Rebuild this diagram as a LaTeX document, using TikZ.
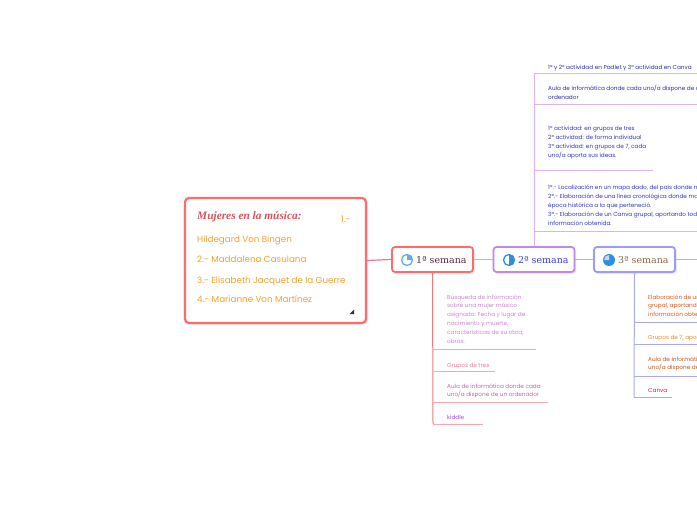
\documentclass[tikz,border=0pt]{standalone}
\usepackage{fontspec}
\setmainfont{Poppins}
\newfontfamily\weekfont{DejaVu Serif}
\newfontfamily\titlefont{Liberation Serif}
\definecolor{mainred}{HTML}{FF6B6B}
\definecolor{titlered}{HTML}{E0505A}
\definecolor{orangetxt}{HTML}{F2A22A}
\definecolor{weekone}{HTML}{5C2A3A}
\definecolor{weektwo}{HTML}{3B3BE8}
\definecolor{weekthree}{HTML}{8A6A40}
\definecolor{purpleb}{HTML}{C387E8}
\definecolor{blueb}{HTML}{9B9BFF}
\definecolor{iconblue}{HTML}{2E8FE0}
\definecolor{lnA}{HTML}{E8789A}
\definecolor{lnB}{HTML}{D4A4EC}
\definecolor{lnC}{HTML}{A8B4F4}
\definecolor{lnD}{HTML}{90C0FF}
\definecolor{redline}{HTML}{F47A7A}
\definecolor{redunder}{HTML}{F8A8A8}
\definecolor{purpline}{HTML}{DDB0F2}
\definecolor{blueline}{HTML}{AAAAF4}
\definecolor{navytxt}{HTML}{2E2EA8}
\definecolor{bluetxt}{HTML}{3434C8}
\definecolor{lilac}{HTML}{C888CC}
\definecolor{pinktxt}{HTML}{F07896}
\definecolor{magtxt}{HTML}{B86AB0}
\definecolor{violettxt}{HTML}{A048F0}
\definecolor{orred}{HTML}{E2541A}
\definecolor{ortxt}{HTML}{E8882A}
\definecolor{browntxt}{HTML}{C0581A}
\definecolor{crimson}{HTML}{C82040}
\newcommand{\ml}[1]{\begin{tabular}[t]{@{}l@{}}#1\end{tabular}}
\tikzset{
  mainbox/.style={draw=mainred, line width=2.2bp, rounded corners=4bp, fill=white, inner sep=0, minimum width=181bp, minimum height=125bp},
  weekbox/.style={line width=1.8bp, rounded corners=3bp, fill=white, inner sep=0, minimum width=81bp, minimum height=25bp},
  mtext/.style={anchor=base west, inner sep=0, text=orangetxt, font=\fontsize{8.8}{10}\selectfont},
  itemtext/.style={anchor=base west, inner sep=0, font=\fontsize{5.75}{9}\selectfont},
  weeklabel/.style={anchor=base west, inner sep=0, font=\weekfont\fontsize{9.5}{11}\selectfont}
}
\begin{document}
\begin{tikzpicture}[x=1bp,y=-1bp]
\path[use as bounding box, fill=white] (0,0) rectangle (697,520);
% shadows
\fill[black!8, rounded corners=4bp] (186,200) rectangle (368,325);
\fill[black!8, rounded corners=3bp] (393,249) rectangle (475,274);
\fill[black!8, rounded corners=3bp] (495,249) rectangle (576,274);
\fill[black!8, rounded corners=3bp] (595,249) rectangle (677,274);

% main box
\node[mainbox] (main) at (275.5,260.5) {};
\node[anchor=base west, inner sep=0, text=titlered, font=\titlefont\bfseries\itshape\fontsize{11.4}{12}\selectfont] (title) at (197,219.5) {Mujeres en la música:};
\node[mtext] (n1) at (341,223) {1.-};
\node[mtext] (l1) at (197,243) {Hildegard Von Bingen};
\node[mtext] (l2) at (197,263) {2.- Maddalena Casulana};
\node[mtext] (l3) at (197,283) {3.- Elisabeth Jacquet de la Guerre};
\node[mtext] (l4) at (197,302) {4.- Marianne Von Martínez};
\fill[black!80] (349.5,314) -- (354,314) -- (354,309.5) -- cycle;

% week boxes
\node[weekbox, draw=mainred] (s1) at (432.5,259.5) {};
\node[weekbox, draw=purpleb] (s2) at (534,259.5) {};
\node[weekbox, draw=blueb] (s3) at (634.5,259.5) {};

% connectors
\draw[lnA, line width=1.2bp] (main.east) -- (s1.west);
\draw[lnB, line width=1.2bp] (s1.east) -- (s2.west);
\draw[lnC, line width=1.2bp] (s2.east) -- (s3.west);
\coordinate (rightend) at (697,259.5);
\draw[lnD, line width=1.2bp] (s3.east) -- (rightend);

% icons
\coordinate (ic1) at (407,260);
\coordinate (ic2) at (509,260);
\coordinate (ic3) at (609,260);
\fill[white] (ic1) circle (5.5bp);
\fill[iconblue!75] (ic1) -- ++(0,-5.5) arc[start angle=90, end angle=-0, radius=5.5bp] -- cycle;
\draw[iconblue!75, line width=1.3bp] (ic1) circle (5.5bp);
\fill[white] (ic2) circle (5.5bp);
\fill[iconblue] (ic2) -- ++(0,-5.5) arc[start angle=90, end angle=-90, radius=5.5bp] -- cycle;
\draw[iconblue, line width=1.3bp] (ic2) circle (5.5bp);
\fill[iconblue] (ic3) circle (6bp);
\fill[iconblue!30] (ic3) -- ++(-5,0) arc[start angle=180, end angle=90, radius=5bp] -- cycle;

% week labels
\node[weeklabel, text=weekone] (w1) at (416,263.5) {1ª semana};
\node[weeklabel, text=weektwo] (w2) at (518,263.5) {2ª semana};
\node[weeklabel, text=weekthree] (w3) at (618,263.5) {3ª semana};

% ---------- week 2 branch (upwards)
\coordinate (v2top) at (534,74);
\draw[purpline, line width=1bp] (v2top) -- (s2.north);
\coordinate (u2a) at (697,74);
\coordinate (u2aL) at (534,74);
\coordinate (u2b) at (697,105);
\coordinate (u2bL) at (534,105);
\coordinate (u2c) at (653,171);
\coordinate (u2cL) at (534,171);
\coordinate (u2d) at (697,232);
\coordinate (u2dL) at (534,232);
\draw[purpline, line width=1bp] (u2aL) -- (u2a);
\draw[purpline, line width=1bp] (u2bL) -- (u2b);
\draw[purpline, line width=1bp] (u2cL) -- (u2c);
\draw[purpline, line width=1bp] (u2dL) -- (u2d);
\node[itemtext, text=navytxt] (a2) at (548,69.5) {1º y 2º actividad en Padlet y 3º actividad en Canva};
\node[itemtext, text=navytxt] (b2) at (548,91) {\ml{Aula de informática donde cada uno/a dispone de un\\ordenador}};
\node[itemtext, text=bluetxt] (c2) at (548,131) {\ml{1º actividad: en grupos de tres\\2º actividad: de forma individual\\3º actividad: en grupos de 7, cada\\uno/a aporta sus ideas.}};
\node[itemtext, text=bluetxt] (d2) at (548,190) {\ml{1º.- Localización en un mapa dado, del país donde nació.\\2º.- Elaboración de una línea cronológica donde marcar la\\época histórica a la que perteneció.\\3º.- Elaboración de un Canva grupal, aportando toda la\\información obtenida.}};

% ---------- week 1 branch (downwards)
\coordinate (v1bot) at (433,424);
\draw[redline, line width=1bp] (s1.south) -- (v1bot);
\coordinate (u1aL) at (433,349);
\coordinate (u1a) at (536,349);
\coordinate (u1bL) at (433,371);
\coordinate (u1b) at (495,371);
\coordinate (u1cL) at (433,402);
\coordinate (u1c) at (548,402);
\coordinate (u1d) at (483,424);
\draw[redunder, line width=1bp] (u1aL) -- (u1a);
\draw[redunder, line width=1bp] (u1bL) -- (u1b);
\draw[redunder, line width=1bp] (u1cL) -- (u1c);
\draw[redunder, line width=1bp] (v1bot) -- (u1d);
\node[itemtext, text=lilac] (a1) at (447,299) {\ml{Búsqueda de información\\sobre una mujer músico\\asignado: Fecha y lugar de\\nacimiento y muerte,\\características de su obra,\\obras.}};
\node[itemtext, text=pinktxt] (b1) at (447,367) {Grupos de tres};
\node[itemtext, text=magtxt] (c1) at (447,388) {\ml{Aula de informática donde cada\\uno/a dispone de un ordenador}};
\node[itemtext, text=violettxt] (d1) at (447,419) {kiddle};

% ---------- week 3 branch (downwards)
\coordinate (v3bot) at (634,397);
\draw[blueline, line width=1bp] (s3.south) -- (v3bot);
\coordinate (u3aL) at (634,322);
\coordinate (u3a) at (697,322);
\coordinate (u3bL) at (634,344);
\coordinate (u3b) at (697,344);
\coordinate (u3cL) at (634,376);
\coordinate (u3c) at (697,376);
\coordinate (u3d) at (672,397);
\draw[blueline, line width=1bp] (u3aL) -- (u3a);
\draw[blueline, line width=1bp] (u3bL) -- (u3b);
\draw[blueline, line width=1bp] (u3cL) -- (u3c);
\draw[blueline, line width=1bp] (v3bot) -- (u3d);
\node[itemtext, text=orred] (a3) at (648,299) {\ml{Elaboración de un Canva\\grupal, aportando toda la\\información obtenida.}};
\node[itemtext, text=ortxt] (b3) at (648,339) {Grupos de 7, aportando sus ideas.};
\node[itemtext, text=browntxt] (c3) at (648,361) {\ml{Aula de informática donde cada\\uno/a dispone de un ordenador}};
\node[itemtext, text=crimson] (d3) at (648,392) {Canva};
\end{tikzpicture}
\end{document}
